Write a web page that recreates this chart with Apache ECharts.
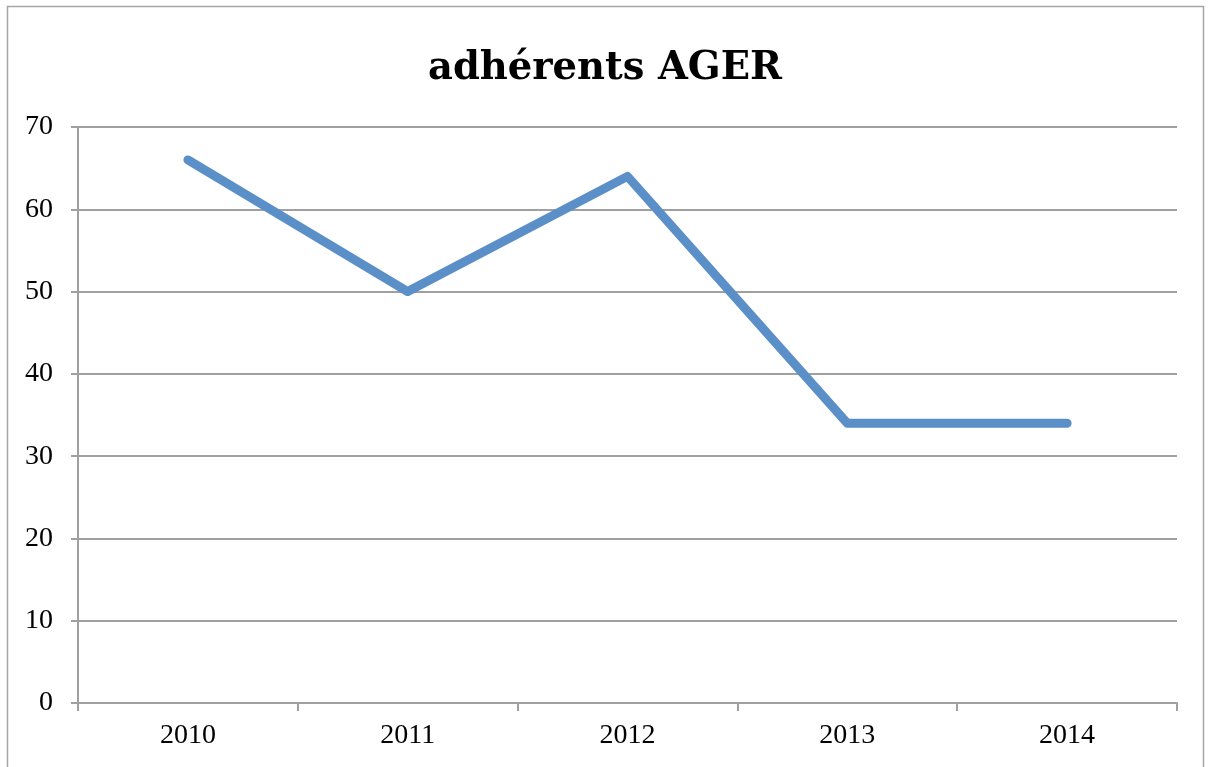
<!DOCTYPE html>
<html><head><meta charset="utf-8">
<script src="https://cdn.jsdelivr.net/npm/echarts@6/dist/echarts.min.js"></script>
<style>html,body{margin:0;padding:0;background:#fff}#c{width:1210px;height:767px}</style>
</head><body><div id="c"></div>
<script>
const titleText = 'adhérents AGER';
const years = ['2010', '2011', '2012', '2013', '2014'];
const adherents = [66, 50, 64, 34, 34];

const chart = echarts.init(document.getElementById('c'));
const serifTitle = '"DejaVu Serif", "Liberation Serif", serif';
const serif = '"Liberation Serif", "DejaVu Serif", serif';
chart.setOption({
  animation: false,
  backgroundColor: '#fff',
  title: {
    text: titleText, left: 'center', top: 44,
    textStyle: { fontFamily: serifTitle, fontWeight: 'bold', fontSize: 38.5, color: '#000' }
  },
  graphic: [{
    type: 'rect', silent: true, z: -1,
    shape: { x: 7.5, y: 6.5, width: 1196, height: 800 },
    style: { fill: 'none', stroke: '#a6a6a6', lineWidth: 1.5 }
  }],
  grid: { left: 78, right: 33, top: 127, bottom: 64 },
  xAxis: {
    type: 'category', data: years, boundaryGap: true,
    axisLine: { lineStyle: { color: '#a0a0a0', width: 2 } },
    axisTick: { show: true, length: 8, alignWithLabel: false, lineStyle: { color: '#a0a0a0', width: 2 } },
    axisLabel: { fontFamily: serif, fontSize: 28, color: '#000', margin: 19 }
  },
  yAxis: {
    type: 'value', min: 0, max: 70, interval: 10,
    axisLine: { show: true, lineStyle: { color: '#a0a0a0', width: 2 } },
    axisTick: { show: true, length: 7, lineStyle: { color: '#a0a0a0', width: 2 } },
    axisLabel: { fontFamily: serif, fontSize: 28, color: '#000', margin: 25 },
    splitLine: { lineStyle: { color: '#a0a0a0', width: 2 } }
  },
  series: [{
    type: 'line', data: adherents, showSymbol: false, symbol: 'none',
    lineStyle: { color: '#5b8fc8', width: 9, cap: 'round', join: 'round' }
  }]
});
</script></body></html>
